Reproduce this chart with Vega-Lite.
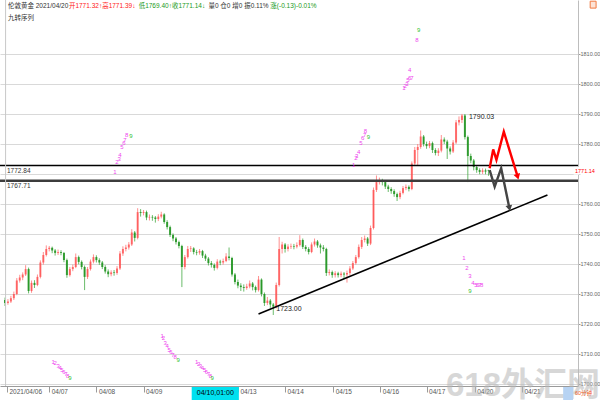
{
  "$schema": "https://vega.github.io/schema/vega-lite/v6.json",
  "width": 578,
  "height": 386,
  "autosize": {"type": "none"},
  "padding": {"left": 0, "top": 0, "right": 22, "bottom": 14},
  "background": "#ffffff",
  "config": {
    "view": {"stroke": null},
    "font": "Liberation Sans, Noto Sans CJK SC, sans-serif",
    "axisY": {
      "orient": "right", "title": null, "tickCount": 13,
      "labelExpr": "datum.value == 1770 || datum.value > 1815 ? '' : format(datum.value, '.2f')",
      "grid": true, "gridColor": "#d9d9d9", "gridWidth": 1,
      "gridOpacity": {"condition": {"test": "datum.value > 1815", "value": 0}, "value": 1},
      "domainColor": "#bdbdbd", "tickColor": "#9a9a9a", "tickSize": 2,
      "labelPadding": 0, "labelFontSize": 5.5, "labelColor": "#666666",
      "labelOverlap": false, "labelBound": false, "labelFlush": false
    },
    "axisX": {
      "orient": "bottom", "title": null, "grid": false,
      "domainColor": "#9a9a9a", "tickColor": "#9a9a9a", "tickSize": 6,
      "labelAlign": "left", "labelBaseline": "top", "labelOffset": 2, "labelPadding": -4,
      "labelFontSize": 6.5, "labelColor": "#555555", "labelOverlap": false,
      "labelFlush": false, "labelBound": false
    }
  },
  "data": {"values": [{}]},
  "datasets": {
    "bars": [
      {"i":0,"o":1728.0,"h":1728.8,"l":1726.0,"c":1727.0},
      {"i":1,"o":1727.0,"h":1728.3,"l":1726.4,"c":1727.5},
      {"i":2,"o":1727.5,"h":1729.4,"l":1727.0,"c":1728.6},
      {"i":3,"o":1728.6,"h":1730.8,"l":1728.0,"c":1730.0},
      {"i":4,"o":1730.0,"h":1735.3,"l":1729.6,"c":1734.5},
      {"i":5,"o":1734.5,"h":1736.4,"l":1733.8,"c":1735.5},
      {"i":6,"o":1735.5,"h":1737.2,"l":1734.6,"c":1736.5},
      {"i":7,"o":1736.5,"h":1739.6,"l":1736.0,"c":1738.3},
      {"i":8,"o":1738.3,"h":1738.8,"l":1730.2,"c":1731.0},
      {"i":9,"o":1731.0,"h":1734.5,"l":1730.4,"c":1733.7},
      {"i":10,"o":1733.7,"h":1734.6,"l":1732.0,"c":1733.0},
      {"i":11,"o":1733.0,"h":1736.5,"l":1732.6,"c":1735.7},
      {"i":12,"o":1735.7,"h":1741.2,"l":1735.2,"c":1740.5},
      {"i":13,"o":1740.5,"h":1744.0,"l":1739.8,"c":1743.0},
      {"i":14,"o":1743.0,"h":1746.2,"l":1742.5,"c":1745.0},
      {"i":15,"o":1745.0,"h":1746.0,"l":1744.2,"c":1745.4},
      {"i":16,"o":1745.4,"h":1745.8,"l":1743.6,"c":1744.5},
      {"i":17,"o":1744.5,"h":1745.0,"l":1742.8,"c":1743.7},
      {"i":18,"o":1743.7,"h":1744.8,"l":1743.0,"c":1744.0},
      {"i":19,"o":1744.0,"h":1744.6,"l":1742.9,"c":1743.7},
      {"i":20,"o":1743.7,"h":1744.0,"l":1740.6,"c":1741.3},
      {"i":21,"o":1741.3,"h":1741.8,"l":1735.4,"c":1736.3},
      {"i":22,"o":1736.3,"h":1739.0,"l":1735.8,"c":1738.3},
      {"i":23,"o":1738.3,"h":1739.8,"l":1737.6,"c":1739.0},
      {"i":24,"o":1739.0,"h":1743.5,"l":1738.6,"c":1742.3},
      {"i":25,"o":1742.3,"h":1742.8,"l":1739.9,"c":1740.7},
      {"i":26,"o":1740.7,"h":1741.2,"l":1738.2,"c":1739.0},
      {"i":27,"o":1739.0,"h":1739.5,"l":1731.3,"c":1735.7},
      {"i":28,"o":1735.7,"h":1739.0,"l":1735.0,"c":1738.3},
      {"i":29,"o":1738.3,"h":1741.5,"l":1737.8,"c":1740.8},
      {"i":30,"o":1740.8,"h":1743.2,"l":1740.2,"c":1742.3},
      {"i":31,"o":1742.3,"h":1742.9,"l":1740.5,"c":1741.3},
      {"i":32,"o":1741.3,"h":1741.9,"l":1739.7,"c":1740.5},
      {"i":33,"o":1740.5,"h":1741.0,"l":1738.3,"c":1739.0},
      {"i":34,"o":1739.0,"h":1739.6,"l":1736.8,"c":1737.5},
      {"i":35,"o":1737.5,"h":1738.2,"l":1735.6,"c":1736.6},
      {"i":36,"o":1736.6,"h":1737.9,"l":1735.9,"c":1737.2},
      {"i":37,"o":1737.2,"h":1738.0,"l":1736.1,"c":1737.0},
      {"i":38,"o":1737.0,"h":1739.3,"l":1736.4,"c":1738.5},
      {"i":39,"o":1738.5,"h":1744.3,"l":1738.0,"c":1743.5},
      {"i":40,"o":1743.5,"h":1745.9,"l":1742.7,"c":1745.0},
      {"i":41,"o":1745.0,"h":1746.4,"l":1744.2,"c":1745.5},
      {"i":42,"o":1745.5,"h":1747.3,"l":1744.8,"c":1746.5},
      {"i":43,"o":1746.5,"h":1751.6,"l":1746.0,"c":1750.5},
      {"i":44,"o":1750.5,"h":1751.0,"l":1747.5,"c":1748.7},
      {"i":45,"o":1748.7,"h":1758.6,"l":1748.2,"c":1757.3},
      {"i":46,"o":1757.3,"h":1758.3,"l":1755.8,"c":1757.0},
      {"i":47,"o":1757.0,"h":1758.0,"l":1756.2,"c":1757.3},
      {"i":48,"o":1757.3,"h":1757.8,"l":1754.6,"c":1755.5},
      {"i":49,"o":1755.5,"h":1756.5,"l":1754.5,"c":1755.7},
      {"i":50,"o":1755.7,"h":1756.3,"l":1754.4,"c":1755.5},
      {"i":51,"o":1755.5,"h":1756.0,"l":1753.8,"c":1755.0},
      {"i":52,"o":1755.0,"h":1756.6,"l":1754.3,"c":1755.8},
      {"i":53,"o":1755.8,"h":1757.4,"l":1755.2,"c":1756.5},
      {"i":54,"o":1756.5,"h":1756.9,"l":1753.4,"c":1754.0},
      {"i":55,"o":1754.0,"h":1754.6,"l":1751.5,"c":1752.3},
      {"i":56,"o":1752.3,"h":1752.8,"l":1749.0,"c":1749.7},
      {"i":57,"o":1749.7,"h":1750.2,"l":1747.6,"c":1748.5},
      {"i":58,"o":1748.5,"h":1749.0,"l":1746.5,"c":1747.3},
      {"i":59,"o":1747.3,"h":1747.8,"l":1745.2,"c":1746.0},
      {"i":60,"o":1746.0,"h":1746.4,"l":1732.3,"c":1739.0},
      {"i":61,"o":1739.0,"h":1743.0,"l":1738.2,"c":1742.3},
      {"i":62,"o":1742.3,"h":1746.0,"l":1741.8,"c":1745.0},
      {"i":63,"o":1745.0,"h":1746.0,"l":1744.0,"c":1745.2},
      {"i":64,"o":1745.2,"h":1745.6,"l":1743.2,"c":1744.0},
      {"i":65,"o":1744.0,"h":1744.7,"l":1742.9,"c":1743.8},
      {"i":66,"o":1743.8,"h":1745.0,"l":1743.1,"c":1744.3},
      {"i":67,"o":1744.3,"h":1744.7,"l":1742.0,"c":1742.8},
      {"i":68,"o":1742.8,"h":1743.4,"l":1741.0,"c":1741.8},
      {"i":69,"o":1741.8,"h":1742.3,"l":1739.5,"c":1740.3},
      {"i":70,"o":1740.3,"h":1741.0,"l":1738.8,"c":1739.7},
      {"i":71,"o":1739.7,"h":1740.2,"l":1737.8,"c":1738.7},
      {"i":72,"o":1738.7,"h":1741.6,"l":1738.2,"c":1740.8},
      {"i":73,"o":1740.8,"h":1741.4,"l":1739.6,"c":1740.5},
      {"i":74,"o":1740.5,"h":1741.8,"l":1739.8,"c":1741.0},
      {"i":75,"o":1741.0,"h":1743.6,"l":1740.6,"c":1742.5},
      {"i":76,"o":1742.5,"h":1745.5,"l":1741.2,"c":1742.0},
      {"i":77,"o":1742.0,"h":1742.4,"l":1735.8,"c":1736.5},
      {"i":78,"o":1736.5,"h":1737.0,"l":1733.2,"c":1734.0},
      {"i":79,"o":1734.0,"h":1734.8,"l":1731.9,"c":1732.8},
      {"i":80,"o":1732.8,"h":1733.6,"l":1731.0,"c":1732.3},
      {"i":81,"o":1732.3,"h":1733.2,"l":1730.8,"c":1732.0},
      {"i":82,"o":1732.0,"h":1733.4,"l":1731.4,"c":1732.5},
      {"i":83,"o":1732.5,"h":1734.5,"l":1731.9,"c":1733.5},
      {"i":84,"o":1733.5,"h":1734.0,"l":1731.2,"c":1732.3},
      {"i":85,"o":1732.3,"h":1732.8,"l":1730.5,"c":1731.3},
      {"i":86,"o":1731.3,"h":1736.0,"l":1730.8,"c":1734.8},
      {"i":87,"o":1734.8,"h":1735.2,"l":1729.2,"c":1730.0},
      {"i":88,"o":1730.0,"h":1730.5,"l":1726.0,"c":1727.0},
      {"i":89,"o":1727.0,"h":1729.0,"l":1726.3,"c":1727.8},
      {"i":90,"o":1727.8,"h":1728.3,"l":1725.4,"c":1726.5},
      {"i":91,"o":1726.5,"h":1727.0,"l":1723.0,"c":1725.8},
      {"i":92,"o":1725.8,"h":1733.8,"l":1725.2,"c":1733.0},
      {"i":93,"o":1733.0,"h":1749.0,"l":1732.5,"c":1745.0},
      {"i":94,"o":1745.0,"h":1747.4,"l":1743.5,"c":1746.5},
      {"i":95,"o":1746.5,"h":1747.0,"l":1743.8,"c":1745.0},
      {"i":96,"o":1745.0,"h":1746.6,"l":1744.2,"c":1745.8},
      {"i":97,"o":1745.8,"h":1746.8,"l":1745.0,"c":1746.0},
      {"i":98,"o":1746.0,"h":1746.7,"l":1744.9,"c":1745.8},
      {"i":99,"o":1745.8,"h":1747.2,"l":1745.2,"c":1746.3},
      {"i":100,"o":1746.3,"h":1749.6,"l":1745.8,"c":1748.0},
      {"i":101,"o":1748.0,"h":1748.5,"l":1745.0,"c":1745.7},
      {"i":102,"o":1745.7,"h":1746.3,"l":1744.2,"c":1745.0},
      {"i":103,"o":1745.0,"h":1745.6,"l":1743.2,"c":1744.0},
      {"i":104,"o":1744.0,"h":1747.2,"l":1743.6,"c":1746.5},
      {"i":105,"o":1746.5,"h":1748.5,"l":1745.8,"c":1747.5},
      {"i":106,"o":1747.5,"h":1748.0,"l":1745.4,"c":1746.2},
      {"i":107,"o":1746.2,"h":1746.8,"l":1743.5,"c":1745.5},
      {"i":108,"o":1745.5,"h":1746.3,"l":1744.2,"c":1745.0},
      {"i":109,"o":1745.0,"h":1745.4,"l":1736.0,"c":1737.0},
      {"i":110,"o":1737.0,"h":1738.2,"l":1736.2,"c":1737.3},
      {"i":111,"o":1737.3,"h":1737.8,"l":1735.4,"c":1736.3},
      {"i":112,"o":1736.3,"h":1737.6,"l":1735.5,"c":1736.9},
      {"i":113,"o":1736.9,"h":1737.4,"l":1735.5,"c":1736.3},
      {"i":114,"o":1736.3,"h":1737.5,"l":1735.6,"c":1736.8},
      {"i":115,"o":1736.8,"h":1737.3,"l":1735.0,"c":1736.5},
      {"i":116,"o":1736.5,"h":1737.8,"l":1733.8,"c":1737.0},
      {"i":117,"o":1737.0,"h":1739.3,"l":1736.2,"c":1738.5},
      {"i":118,"o":1738.5,"h":1741.0,"l":1738.0,"c":1740.3},
      {"i":119,"o":1740.3,"h":1743.0,"l":1739.8,"c":1742.3},
      {"i":120,"o":1742.3,"h":1746.5,"l":1741.8,"c":1745.7},
      {"i":121,"o":1745.7,"h":1749.0,"l":1745.0,"c":1748.0},
      {"i":122,"o":1748.0,"h":1749.5,"l":1747.2,"c":1748.5},
      {"i":123,"o":1748.5,"h":1749.0,"l":1746.0,"c":1746.8},
      {"i":124,"o":1746.8,"h":1752.8,"l":1746.3,"c":1752.0},
      {"i":125,"o":1752.0,"h":1765.5,"l":1751.5,"c":1764.7},
      {"i":126,"o":1764.7,"h":1769.5,"l":1764.0,"c":1767.3},
      {"i":127,"o":1767.3,"h":1768.8,"l":1766.5,"c":1767.8},
      {"i":128,"o":1767.8,"h":1768.4,"l":1766.2,"c":1767.3},
      {"i":129,"o":1767.3,"h":1767.8,"l":1765.0,"c":1765.8},
      {"i":130,"o":1765.8,"h":1766.4,"l":1764.0,"c":1765.0},
      {"i":131,"o":1765.0,"h":1765.6,"l":1763.4,"c":1764.3},
      {"i":132,"o":1764.3,"h":1764.9,"l":1762.4,"c":1763.3},
      {"i":133,"o":1763.3,"h":1763.8,"l":1761.0,"c":1762.3},
      {"i":134,"o":1762.3,"h":1764.4,"l":1761.6,"c":1763.7},
      {"i":135,"o":1763.7,"h":1766.0,"l":1763.2,"c":1765.3},
      {"i":136,"o":1765.3,"h":1766.5,"l":1764.6,"c":1765.7},
      {"i":137,"o":1765.7,"h":1766.2,"l":1764.2,"c":1765.0},
      {"i":138,"o":1765.0,"h":1774.2,"l":1764.6,"c":1773.5},
      {"i":139,"o":1773.5,"h":1779.0,"l":1773.0,"c":1778.0},
      {"i":140,"o":1778.0,"h":1780.0,"l":1773.0,"c":1779.0},
      {"i":141,"o":1779.0,"h":1784.5,"l":1778.4,"c":1782.5},
      {"i":142,"o":1782.5,"h":1783.0,"l":1779.2,"c":1780.0},
      {"i":143,"o":1780.0,"h":1780.8,"l":1778.4,"c":1779.3},
      {"i":144,"o":1779.3,"h":1781.0,"l":1778.6,"c":1780.3},
      {"i":145,"o":1780.3,"h":1780.8,"l":1777.0,"c":1778.0},
      {"i":146,"o":1778.0,"h":1778.6,"l":1776.2,"c":1777.0},
      {"i":147,"o":1777.0,"h":1778.6,"l":1776.0,"c":1777.8},
      {"i":148,"o":1777.8,"h":1783.0,"l":1777.2,"c":1781.5},
      {"i":149,"o":1781.5,"h":1782.2,"l":1780.0,"c":1780.8},
      {"i":150,"o":1780.8,"h":1781.4,"l":1775.0,"c":1778.5},
      {"i":151,"o":1778.5,"h":1779.2,"l":1776.5,"c":1777.5},
      {"i":152,"o":1777.5,"h":1781.3,"l":1777.0,"c":1780.5},
      {"i":153,"o":1780.5,"h":1788.0,"l":1780.0,"c":1787.2},
      {"i":154,"o":1787.2,"h":1789.2,"l":1786.2,"c":1788.0},
      {"i":155,"o":1788.0,"h":1790.03,"l":1787.0,"c":1789.5},
      {"i":156,"o":1789.5,"h":1790.0,"l":1781.5,"c":1782.3},
      {"i":157,"o":1782.3,"h":1782.8,"l":1767.3,"c":1776.0},
      {"i":158,"o":1776.0,"h":1776.8,"l":1773.6,"c":1774.5},
      {"i":159,"o":1774.5,"h":1775.0,"l":1771.2,"c":1772.3},
      {"i":160,"o":1772.3,"h":1772.9,"l":1770.4,"c":1771.3},
      {"i":161,"o":1771.3,"h":1771.9,"l":1769.9,"c":1770.7},
      {"i":162,"o":1770.7,"h":1771.9,"l":1770.0,"c":1771.2},
      {"i":163,"o":1771.2,"h":1771.8,"l":1769.9,"c":1770.8},
      {"i":164,"o":1771.32,"h":1771.39,"l":1769.40,"c":1771.14}
    ],
    "td": [
      {"i":37.3,"p":1770.7,"n":"1"},{"i":38.0,"p":1774.0,"n":"2"},{"i":38.7,"p":1775.0,"n":"3"},
      {"i":39.0,"p":1776.3,"n":"4"},{"i":39.7,"p":1779.0,"n":"5"},{"i":40.3,"p":1780.3,"n":"6"},
      {"i":40.7,"p":1781.3,"n":"7"},{"i":41.3,"p":1783.0,"n":"8"},{"i":42.7,"p":1782.7,"n":"9"},
      {"i":118.3,"p":1773.0,"n":"1"},{"i":119.0,"p":1775.3,"n":"2"},{"i":119.3,"p":1776.0,"n":"3"},
      {"i":120.0,"p":1777.3,"n":"4"},{"i":120.7,"p":1780.3,"n":"5"},{"i":121.3,"p":1782.0,"n":"6"},
      {"i":122.0,"p":1783.0,"n":"7"},{"i":122.3,"p":1784.3,"n":"8"},{"i":123.3,"p":1782.3,"n":"9"},
      {"i":135.3,"p":1798.7,"n":"1"},{"i":135.7,"p":1799.3,"n":"2"},{"i":136.3,"p":1800.0,"n":"3"},
      {"i":137.3,"p":1804.7,"n":"4"},{"i":136.7,"p":1801.3,"n":"5"},{"i":137.3,"p":1802.0,"n":"6"},
      {"i":138.0,"p":1802.0,"n":"7"},{"i":139.7,"p":1814.7,"n":"8"},{"i":140.3,"p":1818.0,"n":"9"},
      {"i":155.7,"p":1742.0,"n":"1"},{"i":156.7,"p":1738.7,"n":"2"},{"i":157.7,"p":1736.0,"n":"3"},
      {"i":158.7,"p":1733.7,"n":"4"},{"i":159.7,"p":1733.0,"n":"5"},{"i":160.3,"p":1733.0,"n":"6"},
      {"i":161.0,"p":1733.0,"n":"7"},{"i":161.7,"p":1733.0,"n":"8"},{"i":157.7,"p":1731.0,"n":"9"},
      {"i":16.3,"p":1707.3,"n":"1"},{"i":17.0,"p":1707.0,"n":"2"},{"i":18.0,"p":1706.0,"n":"3"},
      {"i":18.7,"p":1705.3,"n":"4"},{"i":19.3,"p":1704.7,"n":"5"},{"i":20.0,"p":1704.0,"n":"6"},
      {"i":20.7,"p":1703.3,"n":"7"},{"i":21.3,"p":1702.7,"n":"8"},{"i":22.0,"p":1702.0,"n":"9"},
      {"i":53.3,"p":1716.0,"n":"1"},{"i":53.7,"p":1715.3,"n":"2"},{"i":54.3,"p":1713.7,"n":"3"},
      {"i":55.0,"p":1712.7,"n":"4"},{"i":55.7,"p":1711.3,"n":"5"},{"i":56.3,"p":1710.7,"n":"6"},
      {"i":57.0,"p":1709.7,"n":"7"},{"i":57.7,"p":1709.0,"n":"8"},{"i":58.7,"p":1708.0,"n":"9"},
      {"i":65.0,"p":1707.3,"n":"1"},{"i":65.7,"p":1706.7,"n":"2"},{"i":66.3,"p":1706.0,"n":"3"},
      {"i":67.0,"p":1705.3,"n":"4"},{"i":67.7,"p":1704.7,"n":"5"},{"i":68.3,"p":1704.0,"n":"6"},
      {"i":69.0,"p":1703.3,"n":"7"},{"i":69.7,"p":1702.7,"n":"8"},{"i":70.3,"p":1702.0,"n":"9"}
    ],
    "trend": [
      {"i":86,"p":1723.3},
      {"i":184,"p":1763.0}
    ],
    "proj": [
      {"s":"up","k":0,"i":164.4,"p":1771.9},
      {"s":"up","k":1,"i":165.6,"p":1778.2},
      {"s":"up","k":2,"i":166.7,"p":1774.7},
      {"s":"up","k":3,"i":169.2,"p":1784.1},
      {"s":"up","k":4,"i":173.9,"p":1769.1},
      {"s":"dn","k":0,"i":164.4,"p":1771.3},
      {"s":"dn","k":1,"i":166.1,"p":1765.8},
      {"s":"dn","k":2,"i":168.3,"p":1771.9},
      {"s":"dn","k":3,"i":171.1,"p":1758.6}
    ]
  },
  "layer": [
    {
      "data": {"name": "bars"},
      "mark": {"type": "rule", "strokeWidth": 1},
      "encoding": {
        "x": {
          "field": "i", "type": "quantitative", "title": null,
          "scale": {"domain": [0, 192.67], "nice": false, "zero": false},
          "axis": {
            "values": [0.67, 15, 31, 47, 63.33, 79, 95, 111.33, 127.33, 143, 159.33, 175.33],
            "labelExpr": "['2021/04/06','04/07','04/08','04/09','04/10','04/13','04/14','04/15','04/16','04/17','04/20','04/21'][indexof([0.67,15,31,47,63.33,79,95,111.33,127.33,143,159.33,175.33], datum.value)]"
          }
        },
        "y": {
          "field": "l", "type": "quantitative", "title": null,
          "scale": {"domain": [1699.33, 1828], "nice": false, "zero": false},
          "axis": {
            "values": [1700, 1710, 1720, 1730, 1740, 1750, 1760, 1770, 1780, 1790, 1800, 1810]
          }
        },
        "y2": {"field": "h"},
        "color": {"condition": {"test": "datum.c >= datum.o", "value": "#ff6b6b"}, "value": "#3aa63a"},
        "opacity": {"value": 0.75}
      }
    },
    {
      "data": {"name": "bars"},
      "mark": {"type": "bar", "width": 2},
      "encoding": {
        "x": {"field": "i", "type": "quantitative", "title": null},
        "y": {"field": "o", "type": "quantitative", "title": null},
        "y2": {"field": "c"},
        "color": {"condition": {"test": "datum.c >= datum.o", "value": "#ff4545"}, "value": "#1c921c"},
        "opacity": {"condition": {"test": "datum.c >= datum.o", "value": 0.7}, "value": 0.85}
      }
    },
    {
      "mark": {"type": "rule", "color": "#000000", "strokeWidth": 1.5},
      "encoding": {"y": {"datum": 1772.84, "type": "quantitative", "title": null}}
    },
    {
      "mark": {"type": "rule", "color": "#3c3c3c", "strokeWidth": 2.5},
      "encoding": {"y": {"datum": 1767.71, "type": "quantitative", "title": null}}
    },
    {
      "mark": {"type": "rule", "color": "#c8c8c8", "strokeWidth": 1},
      "encoding": {"x": {"datum": 0.2, "type": "quantitative", "title": null}}
    },
    {
      "mark": {"type": "text", "align": "left", "baseline": "middle", "fontSize": 6.5, "color": "#333333", "dx": 2},
      "encoding": {
        "x": {"datum": 0, "type": "quantitative", "title": null},
        "y": {"datum": 1771.0, "type": "quantitative", "title": null},
        "text": {"value": "1772.84"}
      }
    },
    {
      "mark": {"type": "text", "align": "left", "baseline": "middle", "fontSize": 6.5, "color": "#333333", "dx": 2},
      "encoding": {
        "x": {"datum": 0, "type": "quantitative", "title": null},
        "y": {"datum": 1766.0, "type": "quantitative", "title": null},
        "text": {"value": "1767.71"}
      }
    },
    {
      "data": {"name": "trend"},
      "mark": {"type": "line", "color": "#000000", "strokeWidth": 1.6},
      "encoding": {
        "x": {"field": "i", "type": "quantitative", "title": null},
        "y": {"field": "p", "type": "quantitative", "title": null}
      }
    },
    {
      "data": {"name": "proj"},
      "mark": {"type": "line", "strokeWidth": 2.4},
      "encoding": {
        "x": {"field": "i", "type": "quantitative", "title": null},
        "y": {"field": "p", "type": "quantitative", "title": null},
        "order": {"field": "k"},
        "color": {"field": "s", "type": "nominal", "scale": {"domain": ["up", "dn"], "range": ["#ff0000", "#444444"]}, "legend": null}
      }
    },
    {
      "mark": {"type": "point", "shape": "triangle-up", "filled": true, "size": 45, "angle": 163, "color": "#ff0000", "opacity": 1},
      "encoding": {
        "x": {"datum": 173.9, "type": "quantitative", "title": null},
        "y": {"datum": 1769.1, "type": "quantitative", "title": null}
      }
    },
    {
      "mark": {"type": "point", "shape": "triangle-up", "filled": true, "size": 45, "angle": 168, "color": "#444444", "opacity": 1},
      "encoding": {
        "x": {"datum": 171.1, "type": "quantitative", "title": null},
        "y": {"datum": 1758.6, "type": "quantitative", "title": null}
      }
    },
    {
      "data": {"name": "td"},
      "mark": {"type": "text", "fontSize": 6, "align": "center", "baseline": "middle"},
      "encoding": {
        "x": {"field": "i", "type": "quantitative", "title": null},
        "y": {"field": "p", "type": "quantitative", "title": null},
        "text": {"field": "n"},
        "color": {"condition": {"test": "datum.n == '9'", "value": "#2fbf2f"}, "value": "#ee44ee"}
      }
    },
    {
      "data": {"values": [{"i": 155, "p": 1790.03}]},
      "mark": {"type": "text", "align": "left", "baseline": "middle", "fontSize": 7, "color": "#222222", "dx": 7, "dy": 3},
      "encoding": {
        "x": {"field": "i", "type": "quantitative", "title": null},
        "y": {"field": "p", "type": "quantitative", "title": null},
        "text": {"field": "p", "format": ".2f"}
      }
    },
    {
      "data": {"values": [{"i": 91, "p": 1723.0}]},
      "mark": {"type": "text", "align": "left", "baseline": "middle", "fontSize": 7, "color": "#222222", "dx": 3, "dy": -6},
      "encoding": {
        "x": {"field": "i", "type": "quantitative", "title": null},
        "y": {"field": "p", "type": "quantitative", "title": null},
        "text": {"field": "p", "format": ".2f"}
      }
    },
    {
      "mark": {"type": "rect", "color": "#ffffff"},
      "encoding": {
        "x": {"datum": 192.9, "type": "quantitative", "title": null},
        "x2": {"datum": 200},
        "y": {"datum": 1769.8, "type": "quantitative", "title": null},
        "y2": {"datum": 1772.4}
      }
    },
    {
      "mark": {"type": "text", "align": "left", "baseline": "middle", "fontSize": 5.5, "color": "#ff0000", "dx": 2},
      "encoding": {
        "x": {"datum": 192.67, "type": "quantitative", "title": null},
        "y": {"datum": 1771.14, "type": "quantitative", "title": null},
        "text": {"value": "1771.14"}
      }
    },
    {
      "mark": {"type": "text", "align": "center", "baseline": "alphabetic", "fontSize": 33, "fontWeight": "bold", "color": "#b8b8b8", "opacity": 0.55},
      "encoding": {
        "x": {"datum": 175.7, "type": "quantitative", "title": null},
        "y": {"datum": 1696.0, "type": "quantitative", "title": null},
        "text": {"value": "618外汇网"}
      }
    },
    {
      "mark": {"type": "rect", "color": "#00e1f0"},
      "encoding": {
        "x": {"datum": 63.33, "type": "quantitative", "title": null},
        "x2": {"datum": 79.33},
        "y": {"datum": 1699.0, "type": "quantitative", "title": null},
        "y2": {"datum": 1694.67}
      }
    },
    {
      "mark": {"type": "text", "align": "center", "baseline": "middle", "fontSize": 7, "color": "#000000"},
      "encoding": {
        "x": {"datum": 71.33, "type": "quantitative", "title": null},
        "y": {"datum": 1697.0, "type": "quantitative", "title": null},
        "text": {"value": "04/10,01:00"}
      }
    },
    {
      "mark": {"type": "rect", "color": "#b7d3f3"},
      "encoding": {
        "x": {"datum": 189.33, "type": "quantitative", "title": null},
        "x2": {"datum": 192.67},
        "y": {"datum": 1699.0, "type": "quantitative", "title": null},
        "y2": {"datum": 1694.67}
      }
    },
    {
      "mark": {"type": "text", "align": "left", "baseline": "middle", "fontSize": 5.5, "color": "#f05a22", "dx": 2},
      "encoding": {
        "x": {"datum": 192.67, "type": "quantitative", "title": null},
        "y": {"datum": 1697.0, "type": "quantitative", "title": null},
        "text": {"value": "60分钟"}
      }
    },
    {
      "mark": {"type": "rect", "fill": "#fde3d6", "stroke": "#f07a40", "strokeWidth": 1},
      "encoding": {
        "x": {"datum": 198.5, "type": "quantitative", "title": null},
        "x2": {"datum": 200.5},
        "y": {"datum": 1827.6, "type": "quantitative", "title": null},
        "y2": {"datum": 1825.3}
      }
    },
    {
      "mark": {"type": "text", "align": "left", "baseline": "middle", "fontSize": 6.5, "color": "#333333"},
      "encoding": {
        "x": {"datum": 1.0, "type": "quantitative", "title": null},
        "y": {"datum": 1826.0, "type": "quantitative", "title": null},
        "text": {"value": "伦敦黄金 2021/04/20"}
      }
    },
    {
      "mark": {"type": "text", "align": "left", "baseline": "middle", "fontSize": 6.5, "color": "#ff2020"},
      "encoding": {
        "x": {"datum": 21.67, "type": "quantitative", "title": null},
        "y": {"datum": 1826.0, "type": "quantitative", "title": null},
        "text": {"value": "开1771.32↑高1771.39↓"}
      }
    },
    {
      "mark": {"type": "text", "align": "left", "baseline": "middle", "fontSize": 6.5, "color": "#1a9a1a"},
      "encoding": {
        "x": {"datum": 45.33, "type": "quantitative", "title": null},
        "y": {"datum": 1826.0, "type": "quantitative", "title": null},
        "text": {"value": "低1769.40↑收1771.14↓"}
      }
    },
    {
      "mark": {"type": "text", "align": "left", "baseline": "middle", "fontSize": 6.5, "color": "#333333"},
      "encoding": {
        "x": {"datum": 69.0, "type": "quantitative", "title": null},
        "y": {"datum": 1826.0, "type": "quantitative", "title": null},
        "text": {"value": "量0 仓0 增0 振0.11%"}
      }
    },
    {
      "mark": {"type": "text", "align": "left", "baseline": "middle", "fontSize": 6.5, "color": "#1a9a1a"},
      "encoding": {
        "x": {"datum": 90.0, "type": "quantitative", "title": null},
        "y": {"datum": 1826.0, "type": "quantitative", "title": null},
        "text": {"value": "涨(-0.13)-0.01%"}
      }
    },
    {
      "mark": {"type": "text", "align": "left", "baseline": "middle", "fontSize": 6.5, "color": "#333333"},
      "encoding": {
        "x": {"datum": 1.0, "type": "quantitative", "title": null},
        "y": {"datum": 1822.0, "type": "quantitative", "title": null},
        "text": {"value": "九转序列"}
      }
    }
  ]
}
